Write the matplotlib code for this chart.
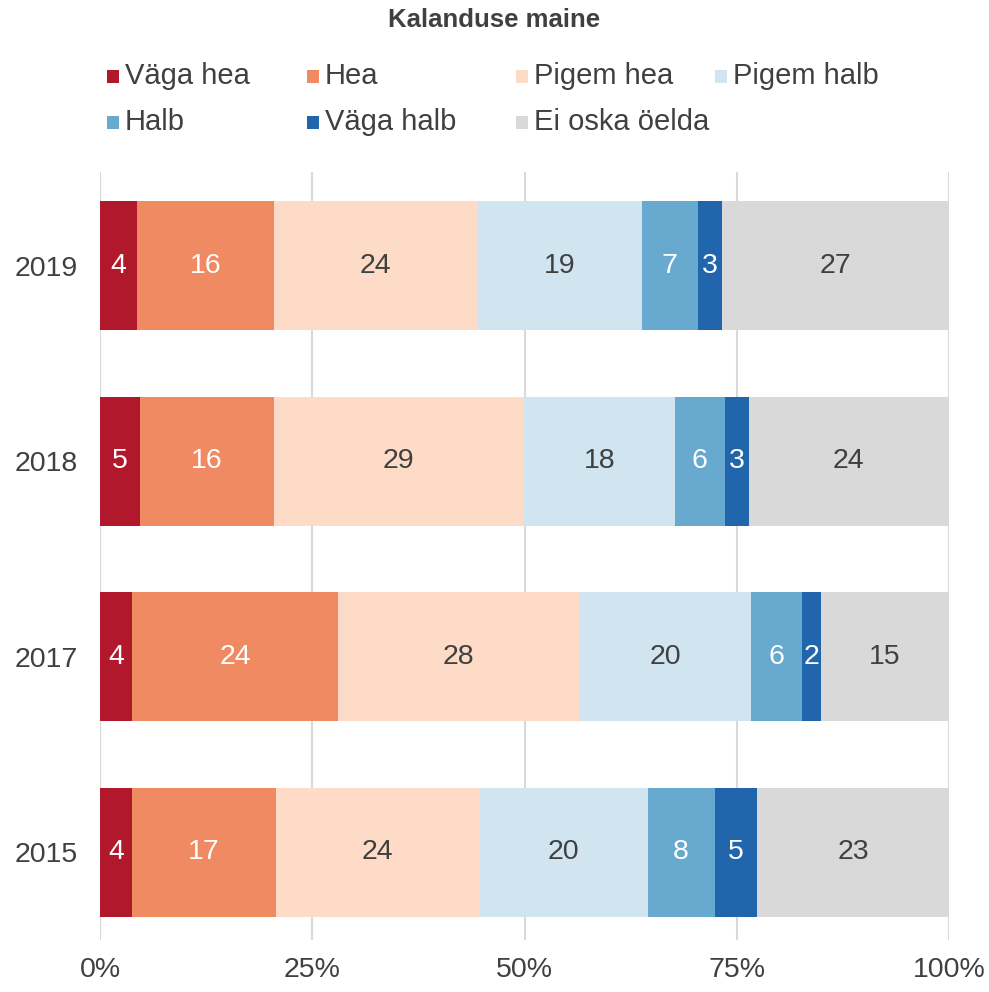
import numpy as np
import matplotlib.pyplot as plt
from matplotlib.patches import Rectangle

plt.rcParams['font.family'] = ['Liberation Sans', 'DejaVu Sans']

# data (shares in %)
years = ['2019', '2018', '2017', '2015']
categories = ['Väga hea', 'Hea', 'Pigem hea', 'Pigem halb', 'Halb', 'Väga halb', 'Ei oska öelda']
vaga_hea = [4.4, 4.7, 3.8, 3.8]
hea = [16.1, 15.8, 24.2, 16.9]
pigem_hea = [23.9, 29.4, 28.4, 24.0]
pigem_halb = [19.4, 17.8, 20.3, 19.8]
halb = [6.6, 5.9, 6.0, 7.9]
vaga_halb = [2.9, 2.8, 2.2, 5.0]
ei_oska = [26.7, 23.6, 15.1, 22.6]

series = [vaga_hea, hea, pigem_hea, pigem_halb, halb, vaga_halb, ei_oska]
colors = ['#b2182b', '#ef8a62', '#fddbc7', '#d1e5f0', '#67a9cf', '#2166ac', '#d9d9d9']
text_colors = ['white', 'white', '#404040', '#404040', 'white', 'white', '#404040']
dark = '#404040'
W, H = 989, 992

fig = plt.figure(figsize=(W / 100, H / 100), dpi=100)
ax = fig.add_axes([100 / W, 52 / H, 849 / W, 768 / H])

y = np.arange(len(years))[::-1]
left = np.zeros(len(years))
for vals, col, tc in zip(series, colors, text_colors):
    vals = np.array(vals)
    ax.barh(y, vals, left=left, color=col, height=0.66, zorder=2)
    for yi, l, v in zip(y, left, vals):
        ax.text(l + v / 2, yi, f'{v:.0f}', ha='center', va='center',
                fontsize=20.5, color=tc, zorder=3)
    left += vals

ax.set_xlim(0, 100)
ax.set_ylim(-0.45, 3.48)
ax.set_xticks([0, 25, 50, 75, 100])
ax.set_xticklabels(['0%', '25%', '50%', '75%', '100%'])
ax.set_yticks(y)
ax.set_yticklabels(years)
ax.tick_params(length=0, labelsize=20.5, colors=dark)
ax.tick_params(axis='x', pad=12)
ax.tick_params(axis='y', pad=16)
ax.grid(axis='x', color='#d9d9d9', linewidth=1.5, zorder=0)
for s in ax.spines.values():
    s.set_visible(False)

# legend: fixed-width columns, filled row by row
col_x = [107, 307, 516, 715]
row_y = [76, 122]
for i, (name, col) in enumerate(zip(categories, colors)):
    px = col_x[i % 4]
    py = row_y[i // 4]
    fig.patches.append(Rectangle(((px) / W, 1 - (py + 7) / H), 12 / W, 13 / H,
                                 transform=fig.transFigure, facecolor=col, edgecolor='none'))
    fig.text((px + 18) / W, 1 - py / H, name, ha='left', va='center',
             fontsize=21, color=dark)

fig.text(0.5, 1 - 20 / H, 'Kalanduse maine', ha='center', va='center',
         fontsize=18.5, fontweight='bold', color=dark)

fig.savefig('out.png', dpi=100)
